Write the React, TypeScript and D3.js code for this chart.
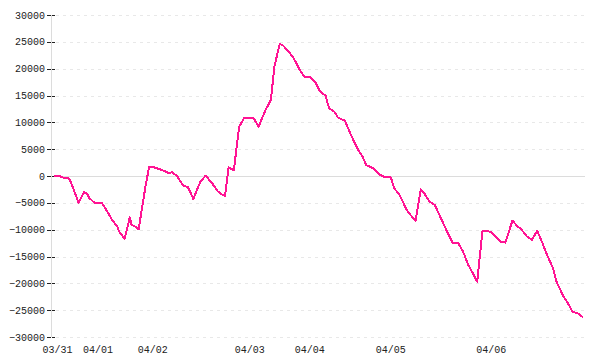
import React, { useEffect } from "react";
import * as d3 from "d3";

// slot index along the time axis and P/L value
const slots = [0, 3, 6, 8, 9, 14, 17, 19, 20, 23, 27, 28, 33, 36, 37, 40, 43, 44, 46, 48, 52, 54, 56, 60, 63, 65, 67, 70, 73, 76, 78, 79, 83, 86, 87, 90, 93, 95, 97, 99, 102, 105, 108, 113, 116, 120, 123, 125, 128, 130, 133, 136, 140, 142, 145, 148, 151, 154, 156, 159, 161, 165, 168, 172, 175, 177, 181, 185, 188, 191, 193, 196, 200, 203, 205, 208, 210, 213, 216, 219, 223, 226, 229, 232, 235, 238, 240, 243, 248, 253, 256, 260, 263, 265, 268, 271, 274, 277, 280, 283, 285, 289, 292, 294, 297, 300];
const values = [0, 0, -400, -400, -700, -5000, -3000, -3400, -4100, -5000, -5000, -5400, -8200, -9500, -10400, -11700, -7700, -9100, -9400, -9900, -1700, 1750, 1700, 1250, 900, 550, 700, -100, -1700, -2100, -3500, -4300, -1050, 50, -300, -1500, -2900, -3400, -3700, 1600, 1100, 9200, 10900, 10900, 9200, 12300, 14200, 20400, 24600, 24300, 23200, 21900, 19400, 18500, 18500, 17600, 15700, 15000, 12600, 12000, 10900, 10300, 7950, 5160, 3600, 2050, 1430, 190, -250, -250, -2300, -3540, -6330, -7580, -8380, -2480, -3220, -4790, -5400, -7580, -10400, -12400, -12400, -14100, -16600, -18400, -19700, -10200, -10400, -12200, -12400, -8300, -9450, -9930, -11200, -11900, -10200, -12500, -15000, -17200, -19700, -22500, -24000, -25300, -25600, -26300];

const dateLabels = ["03/31", "04/01", "04/02", "04/03", "04/04", "04/05", "04/06"];
const dateSlots = [2, 25, 56, 111, 145, 191, 248];
const yTicks = [30000, 25000, 20000, 15000, 10000, 5000, 0, -5000, -10000, -15000, -20000, -25000, -30000];

const W = 600;
const H = 360;

export default function App() {
  useEffect(() => {
    document.body.style.margin = "0";
  }, []);

  const x = d3.scaleLinear().domain([0, 300]).range([54, 583]);
  const y = d3.scaleLinear().domain([-30000, 30000]).range([337, 15]);
  const pts = slots.map((s, i) => [s, values[i]] as [number, number]);
  const line = d3
    .line<[number, number]>()
    .x((d) => x(d[0]))
    .y((d) => y(d[1]));
  const fmt = d3.format("d");
  const font = "'Liberation Mono', monospace";

  return (
    <svg width={W} height={H} style={{ display: "block" }}>
      <rect width={W} height={H} fill="#fff" />
      {yTicks.map((t) =>
        t === 0 ? null : (
          <line
            key={"g" + t}
            x1={56}
            x2={585}
            y1={Math.round(y(t)) + 0.5}
            y2={Math.round(y(t)) + 0.5}
            stroke="#e8e8e8"
            strokeDasharray="3,4"
            shapeRendering="crispEdges"
          />
        )
      )}
      <line x1={52} x2={585} y1={Math.round(y(0)) + 0.5} y2={Math.round(y(0)) + 0.5} stroke="#dcdcdc" shapeRendering="crispEdges" />
      <line x1={51.5} x2={51.5} y1={15} y2={337} stroke="#dcdcdc" shapeRendering="crispEdges" />
      {yTicks.map((t) => (
        <g key={"t" + t}>
          <line
            x1={46.5}
            x2={55}
            y1={Math.round(y(t)) + 0.5}
            y2={Math.round(y(t)) + 0.5}
            stroke="#222"
            strokeDasharray="4,1.5"
            shapeRendering="crispEdges"
          />
          <text
            x={45}
            y={y(t)}
            dy="0.35em"
            textAnchor="end"
            fontFamily={font}
            fontSize={10}
            fill="#222"
          >
            {fmt(t)}
          </text>
        </g>
      ))}
      {dateLabels.map((l, i) => (
        <text
          key={l}
          x={x(dateSlots[i])}
          y={353}
          textAnchor="middle"
          fontFamily={font}
          fontSize={10}
          fill="#222"
        >
          {l}
        </text>
      ))}
      <path
        d={line(pts) || ""}
        fill="none"
        stroke="#ff1493"
        strokeWidth={2}
        strokeLinejoin="round"
        shapeRendering="crispEdges"
      />
    </svg>
  );
}
